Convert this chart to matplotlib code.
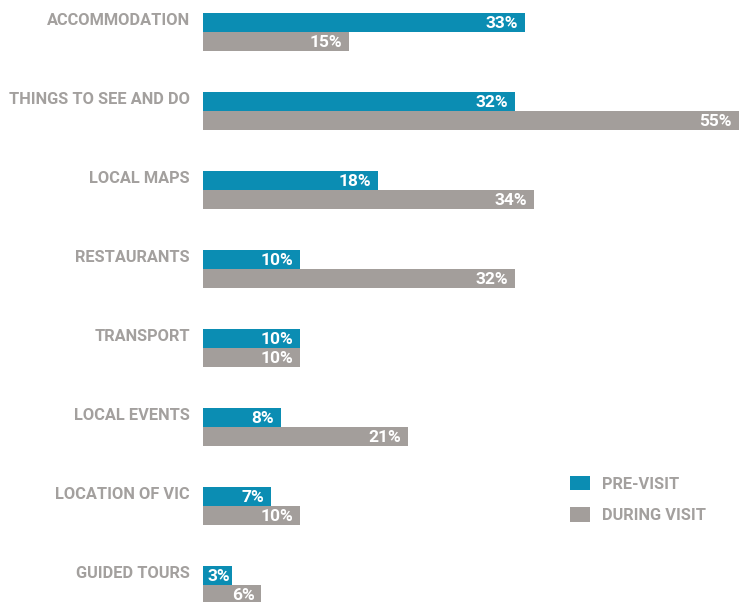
import matplotlib
matplotlib.use("Agg")
import matplotlib.pyplot as plt
import numpy as np

categories = ["ACCOMMODATION", "THINGS TO SEE AND DO", "LOCAL MAPS", "RESTAURANTS",
              "TRANSPORT", "LOCAL EVENTS", "LOCATION OF VIC", "GUIDED TOURS"]
pre_visit = [33, 32, 18, 10, 10, 8, 7, 3]
during_visit = [15, 55, 34, 32, 10, 21, 10, 6]
series_names = ["PRE-VISIT", "DURING VISIT"]

BLUE = "#0b8db3"
GREY = "#a39e9b"
TEXT_GREY = "#a3a09e"
LABEL_FONT = ["Roboto", "DejaVu Sans"]

W, H = 747, 602
fig = plt.figure(figsize=(W / 100, H / 100), dpi=100)
x0 = 203
ax = fig.add_axes([x0 / W, 0, 1 - x0 / W, 1])

px_per_unit = 536 / 55          # 55% spans 536 px
row_px = 79                     # vertical distance between groups
bar_h = 19 / row_px

ax.set_xlim(0, (W - x0) / px_per_unit)
ax.set_ylim((H - 32) / row_px, -32 / row_px)
ax.axis("off")

y = np.arange(len(categories))
ax.barh(y - bar_h / 2, pre_visit, height=bar_h, color=BLUE, label=series_names[0])
ax.barh(y + bar_h / 2, during_visit, height=bar_h, color=GREY, label=series_names[1])


def value_label(v, yy):
    pad = (7 if v >= 5 else 2) / px_per_unit
    ax.text(v - pad, yy + 1 / row_px, f"{v}%", ha="right", va="center",
            color="white", fontsize=12.5, fontweight="bold", family=LABEL_FONT)


for yi, v in zip(y, pre_visit):
    value_label(v, yi - bar_h / 2)
for yi, v in zip(y, during_visit):
    value_label(v, yi + bar_h / 2)

lab_x = -13 / px_per_unit
for yi, c in zip(y, categories):
    ax.text(lab_x, yi - bar_h / 2 - 2 / row_px, c, ha="right", va="center",
            color=TEXT_GREY, fontsize=11.8, fontweight="bold", family=LABEL_FONT,
            clip_on=False)

leg = fig.legend(loc="upper left", bbox_to_anchor=(555 / W, 1 - 461 / H),
                 frameon=False, handlelength=1.25, handleheight=1.0, handletextpad=0.7,
                 labelspacing=0.95,
                 prop={"family": LABEL_FONT, "weight": "bold", "size": 11.8})
for t in leg.get_texts():
    t.set_color(TEXT_GREY)

fig.savefig("out.png", dpi=100)
